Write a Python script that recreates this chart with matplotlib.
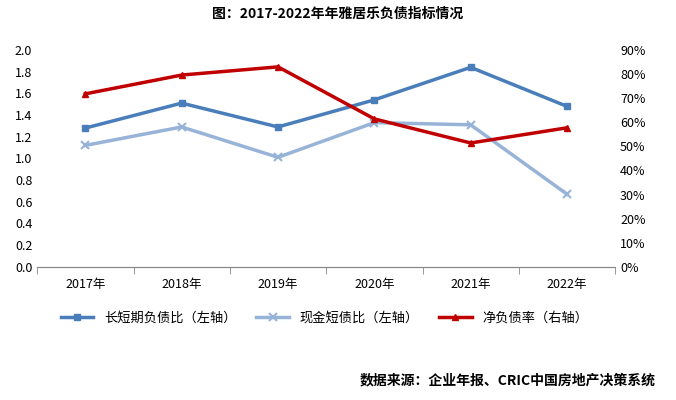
import matplotlib.pyplot as plt
import numpy as np

plt.rcParams["font.family"] = ["Noto Sans CJK SC", "DejaVu Sans"]

years = ["2017年", "2018年", "2019年", "2020年", "2021年", "2022年"]
long_short = [1.28, 1.51, 1.29, 1.54, 1.84, 1.48]
cash_short = [1.12, 1.29, 1.01, 1.33, 1.31, 0.67]
net_debt = [71.8, 79.6, 83.0, 61.4, 51.4, 57.7]

fig = plt.figure(figsize=(6.76, 4.0), dpi=100)
ax = fig.add_axes([0.055, 0.333, 0.855, 0.542])
x = np.arange(len(years))

l1, = ax.plot(x, long_short, color="#4a7ebb", lw=2.5, marker="s", ms=5, label="长短期负债比（左轴）")
l2, = ax.plot(x, cash_short, color="#98b3d8", lw=2.5, marker="x", ms=6, mew=1.5, label="现金短债比（左轴）")
ax.set_ylim(0, 2.0)
ax.set_yticks(np.arange(0, 2.01, 0.2))
ax.set_yticklabels([f"{v:.1f}" for v in np.arange(0, 2.01, 0.2)], fontsize=9)
ax.set_xlim(-0.5, len(years) - 0.5)
ax.set_xticks(x)
ax.set_xticklabels(years, fontsize=9)
ax.set_xticks(np.arange(-0.5, len(years)), minor=True)
ax.tick_params(axis="x", which="major", length=0, pad=8)
ax.tick_params(axis="x", which="minor", length=5, color="#888888")
ax.tick_params(axis="y", length=0)

ax2 = ax.twinx()
l3, = ax2.plot(x, net_debt, color="#c00000", lw=2.5, marker="^", ms=5, label="净负债率（右轴）")
ax2.set_ylim(0, 90)
ax2.set_yticks(np.arange(0, 91, 10))
ax2.set_yticklabels([f"{v}%" for v in range(0, 91, 10)], fontsize=9)
ax2.tick_params(axis="y", length=0)

for a in (ax, ax2):
    for s in ("top", "left", "right"):
        a.spines[s].set_visible(False)
    a.spines["bottom"].set_color("#888888")

fig.text(0.5, 0.955, "图：2017-2022年年雅居乐负债指标情况", ha="center", fontsize=10, fontweight="bold")
fig.legend(handles=[l1, l2, l3], loc="center", bbox_to_anchor=(0.48, 0.205), ncol=3,
           frameon=False, fontsize=9.5, handlelength=2.5, columnspacing=1.5)
fig.text(0.97, 0.04, "数据来源：企业年报、CRIC中国房地产决策系统", ha="right", fontsize=10, fontweight="bold")

fig.savefig("out.png")
